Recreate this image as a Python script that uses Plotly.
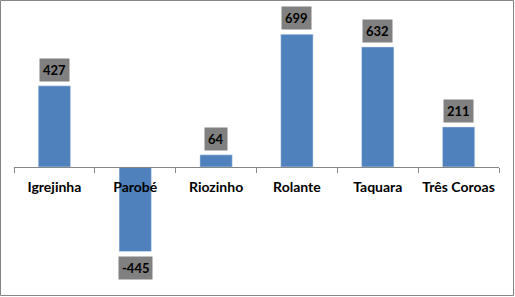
import plotly.graph_objects as go

categories = ["Igrejinha", "Parobé", "Riozinho", "Rolante", "Taquara", "Três Coroas"]
values = [427, -445, 64, 699, 632, 211]
label_texts = ["427", "-445", "64", "699", "632", "211"]

W, H = 515, 297
ml, mr, mt, mb = 14, 16, 15, 16
ymin, ymax = -600, 800
pw, ph = W - ml - mr, H - mt - mb

fig = go.Figure()
fig.add_trace(go.Bar(x=categories, y=values, marker_color="#4F81BD", width=0.4, hoverinfo="x+y"))

for c, v, t in zip(categories, values, label_texts):
    fig.add_annotation(
        x=c, y=v, text="<b>%s</b>" % t, showarrow=False,
        yanchor="bottom" if v >= 0 else "top",
        yshift=4 if v >= 0 else -4,
        bgcolor="#808080", borderpad=3,
        font=dict(family="Lato", size=13, color="#000000"),
    )

# outer chart border
fig.add_shape(
    type="rect", xref="paper", yref="paper",
    x0=(0.5 - ml) / pw, x1=(W - 1.5 - ml) / pw,
    y0=-(mb - 1.5) / ph, y1=1 + (mt - 0.5) / ph,
    line=dict(color="#868686", width=1), fillcolor="rgba(0,0,0,0)",
)

fig.update_layout(
    width=W, height=H,
    margin=dict(l=ml, r=mr, t=mt, b=mb, pad=0, autoexpand=False),
    paper_bgcolor="white", plot_bgcolor="white",
    showlegend=False,
    font=dict(family="Lato", size=13, color="#000000"),
    xaxis=dict(
        type="category", anchor="free", position=(0 - ymin) / (ymax - ymin),
        showline=True, linecolor="#868686", linewidth=1,
        ticks="outside", tickson="boundaries", ticklen=5, tickcolor="#868686",
        showgrid=False, zeroline=False, tickangle=0, automargin=False,
        tickfont=dict(family="Lato", size=14, color="#000000", weight="bold"),
        ticklabelstandoff=7,
    ),
    yaxis=dict(range=[ymin, ymax], visible=False, showgrid=False, zeroline=False),
)

fig.write_html("out.html")
